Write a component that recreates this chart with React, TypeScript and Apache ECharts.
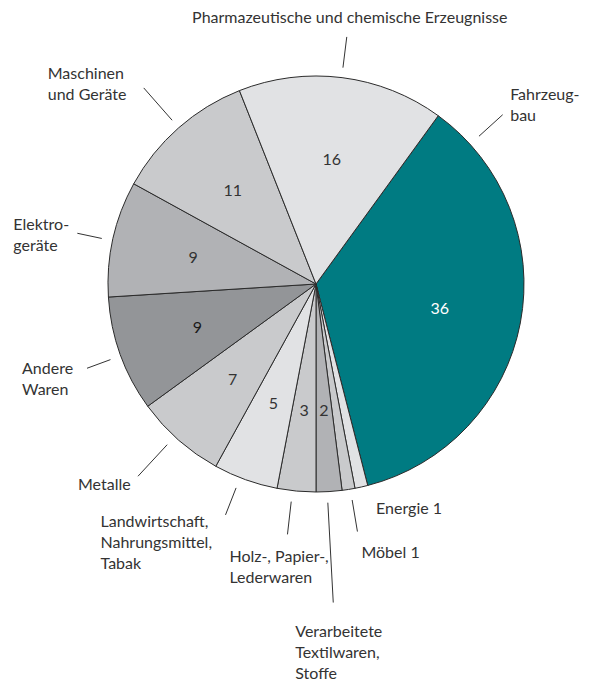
import React, { useEffect, useRef } from "react";
import * as echarts from "echarts";

// ---- Data (clockwise from the top-right boundary) ----
const CATEGORIES = [
  "Fahrzeugbau",
  "Energie",
  "Möbel",
  "Verarbeitete Textilwaren, Stoffe",
  "Holz-, Papier-, Lederwaren",
  "Landwirtschaft, Nahrungsmittel, Tabak",
  "Metalle",
  "Andere Waren",
  "Elektrogeräte",
  "Maschinen und Geräte",
  "Pharmazeutische und chemische Erzeugnisse",
];
const VALUES = [36, 1, 1, 2, 3, 5, 7, 9, 9, 11, 16];
const OUTER_LABELS = [
  "Fahrzeug-\nbau",
  "Energie 1",
  "Möbel 1",
  "Verarbeitete\nTextilwaren,\nStoffe",
  "Holz-, Papier-,\nLederwaren",
  "Landwirtschaft,\nNahrungsmittel,\nTabak",
  "Metalle",
  "Andere\nWaren",
  "Elektro-\ngeräte",
  "Maschinen\nund Geräte",
  "Pharmazeutische und chemische Erzeugnisse",
];
const INNER_LABELS = ["36", "", "", "2", "3", "5", "7", "9", "9", "11", "16"];

// ---- Styles / layout ----
const COLORS = [
  "#007b82",
  "#e1e2e4",
  "#c9cacc",
  "#b1b2b5",
  "#c9cacc",
  "#e1e2e4",
  "#c9cacc",
  "#939598",
  "#b1b2b5",
  "#c9cacc",
  "#e1e2e4",
];
const INNER_COLORS = ["#ffffff", "#333", "#333", "#333", "#333", "#333", "#333", "#1a1a1a", "#333", "#333", "#333"];
const FONT = "Lato";
const CX = 316;
const CY = 284;
const RADIUS = 208;
const START_CW_FROM_TOP = 36; // degrees clockwise from 12 o'clock
const INNER_R = 126;

// leader-line geometry (angle in degrees clockwise from 12 o'clock) and text offset from line end
type Leader = { angle?: number; r0: number; r1: number; dx: number; dy: number; align?: string; va?: string; line?: boolean };
const LEADERS: Leader[] = [
  { angle: 47.8, r0: 220, r1: 252, dx: 7.5, dy: -32 },
  { r0: 250, r1: 250, dx: 5.5, dy: -30.5, line: false },
  { angle: 170.5, r0: 219, r1: 251, dx: 4, dy: 9.5 },
  { angle: 176.9, r0: 219, r1: 319, dx: -38, dy: 17.5 },
  { angle: 186.5, r0: 219, r1: 252, dx: -58, dy: 10.5 },
  { angle: 201.4, r0: 219, r1: 248, dx: -125, dy: -4.5 },
  { angle: 222.8, r0: 219, r1: 262, dx: -60, dy: -3.5 },
  { angle: 249.8, r0: 219, r1: 244, dx: -65, dy: -11.5 },
  { angle: 282, r0: 219, r1: 244, dx: -64, dy: -20.5 },
  { angle: 318.7, r0: 218, r1: 261, dx: -96, dy: -25.5 },
  { angle: 7.1, r0: 218, r1: 249, dx: 3, dy: -20, align: "center", va: "middle" },
];

function midAngles(): number[] {
  const total = VALUES.reduce((a, b) => a + b, 0);
  const out: number[] = [];
  let acc = START_CW_FROM_TOP;
  for (const v of VALUES) {
    const span = (v / total) * 360;
    out.push(acc + span / 2);
    acc += span;
  }
  return out;
}

function polar(angleDeg: number, r: number): [number, number] {
  const a = (angleDeg * Math.PI) / 180;
  return [CX + r * Math.sin(a), CY - r * Math.cos(a)];
}

export default function App() {
  const ref = useRef<HTMLDivElement>(null);
  useEffect(() => {
    document.body.style.margin = "0";
    if (!ref.current) return;
    const chart = echarts.init(ref.current, undefined, { renderer: "svg" });
    const mids = midAngles();
    const data = CATEGORIES.map((name, i) => ({
      name,
      value: VALUES[i],
      itemStyle: { color: COLORS[i] },
      label: { show: INNER_LABELS[i] !== "", color: INNER_COLORS[i] },
    }));
    const outerData = CATEGORIES.map((name, i) => ({
      name,
      value: VALUES[i],
      labelLine: { show: LEADERS[i].line !== false },
    }));
    chart.setOption({
      animation: false,
      backgroundColor: "#ffffff",
      series: [
        {
          type: "pie",
          center: [CX, CY],
          radius: RADIUS,
          startAngle: 90 - START_CW_FROM_TOP,
          clockwise: true,
          avoidLabelOverlap: false,
          silent: true,
          itemStyle: { borderColor: "#2b2b2b", borderWidth: 1 },
          label: {
            position: "inside",
            fontFamily: FONT,
            fontSize: 16,
            formatter: (p: any) => INNER_LABELS[p.dataIndex],
          },
          labelLine: { show: false },
          labelLayout: (p: any) => {
            const [x, y] = polar(mids[p.dataIndex], INNER_R);
            return { x, y, align: "center", verticalAlign: "middle" };
          },
          data,
        },
        {
          type: "pie",
          center: [CX, CY],
          radius: RADIUS,
          startAngle: 90 - START_CW_FROM_TOP,
          clockwise: true,
          avoidLabelOverlap: false,
          silent: true,
          itemStyle: { color: "rgba(0,0,0,0)", borderWidth: 0 },
          emphasis: { disabled: true },
          label: {
            show: true,
            position: "outside",
            fontFamily: FONT,
            fontSize: 16,
            lineHeight: 21,
            color: "#333333",
            align: "left",
            formatter: (p: any) => OUTER_LABELS[p.dataIndex],
          },
          labelLine: { show: true, length: 20, length2: 0, lineStyle: { color: "#333333", width: 1 } },
          labelLayout: (p: any) => {
            const i = p.dataIndex;
            const L = LEADERS[i];
            const ang = L.angle ?? mids[i];
            const p0 = polar(ang, L.r0);
            const p1 = polar(ang, L.r1);
            return {
              x: p1[0] + L.dx,
              y: p1[1] + L.dy,
              align: L.align || "left",
              verticalAlign: L.va || "top",
              labelLinePoints: [p0, p1, p1],
            };
          },
          data: outerData,
        },
      ],
    });
    return () => chart.dispose();
  }, []);
  return <div ref={ref} style={{ width: 591, height: 681 }} />;
}
